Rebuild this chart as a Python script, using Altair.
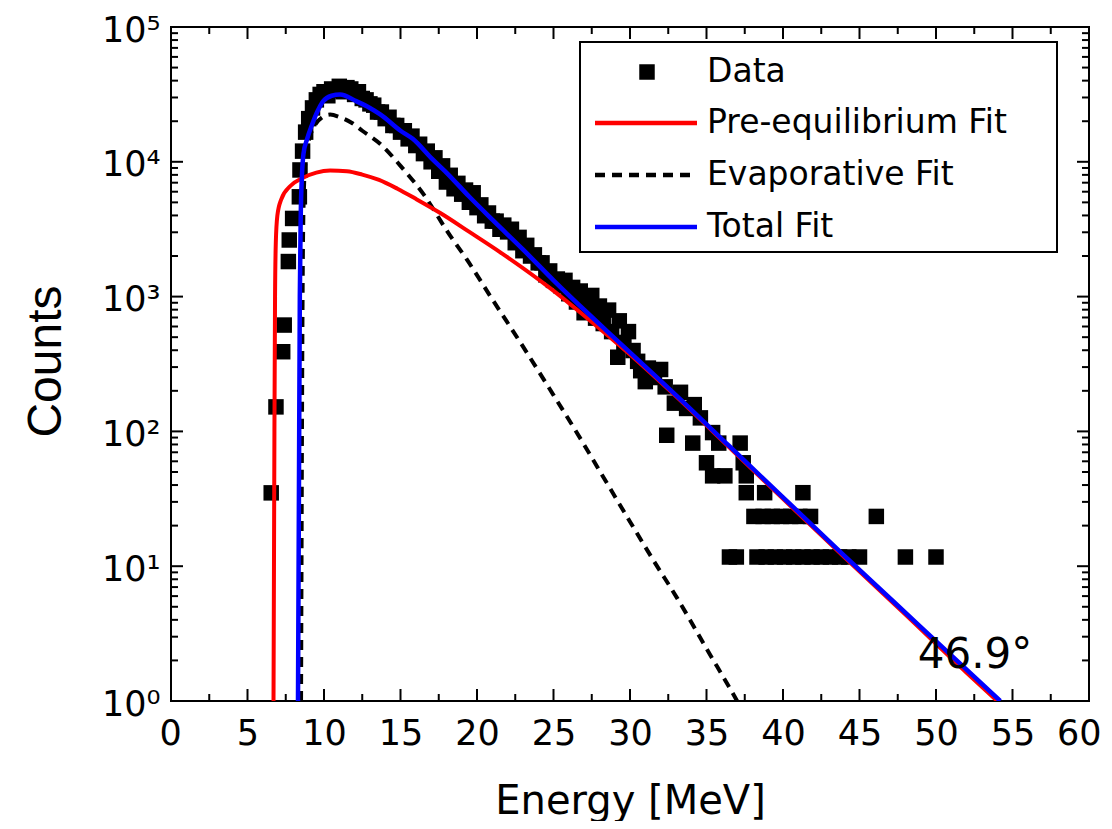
import altair as alt
import pandas as pd

# ---------------- data ----------------
data_E = [6.55, 6.86, 7.30, 7.40, 7.67, 7.73, 7.95, 8.39, 8.43,
          8.6, 8.8, 9.0, 9.25, 9.5, 9.75, 10.0, 10.25, 10.5, 10.75, 11.0, 11.25, 11.5, 11.75,
          12.0, 12.25, 12.5, 12.75, 13.0, 13.25, 13.5, 13.75, 14.0, 14.25, 14.5, 14.75,
          15.0, 15.25, 15.5, 15.75, 16.0, 16.25, 16.5, 16.75, 17.0, 17.25, 17.5, 17.75,
          18.0, 18.25, 18.5, 18.75, 19.0, 19.25, 19.5, 19.75, 20.0, 20.25, 20.5, 20.75,
          21.0, 21.25, 21.5, 21.75, 22.0, 22.25, 22.5, 22.75, 23.0, 23.25, 23.5, 23.75,
          24.0, 24.25, 24.5, 24.75, 25.0, 25.25, 25.5, 25.75, 26.0, 26.25, 26.5, 26.75,
          27.0, 27.25, 27.5, 27.75, 28.0, 28.25, 28.6, 28.8, 29.2, 29.3, 29.6, 29.9,
          30.2, 30.5, 30.7, 31.0, 31.2, 31.6, 32.0, 32.3, 32.4, 32.9, 33.3, 33.7,
          34.1, 34.2, 34.6, 35.0, 35.4, 35.4, 35.8, 36.2, 36.5, 36.95, 37.2, 37.4,
          37.6, 37.6, 38.1, 38.3, 38.7, 38.8, 38.9, 39.3, 39.5, 39.9, 40.1, 40.5,
          40.7, 41.1, 41.3, 41.3, 41.8, 41.9, 42.5, 43.1, 43.7, 44.3, 45.0, 46.1,
          48.0, 50.0]
data_C = [35, 152, 390, 615, 1820, 2630, 3800, 5500, 8700,
          12000, 16600, 20900, 25100, 28800, 31600, 33100, 30900, 34700, 33900, 36300, 33100, 35500, 34700,
          31600, 33100, 29500, 28800, 26900, 26300, 23400, 23400, 20900, 21400, 18600, 18600,
          16600, 17000, 14800, 15500, 13200, 13500, 11500, 12000, 10000, 10700, 8510, 9330,
          7080, 7940, 6310, 6920, 5750, 6170, 5010, 5890, 4570, 4790, 3980, 4170,
          3630, 3630, 3160, 3390, 3020, 3160, 2510, 2750, 2190, 2400, 2000, 2040,
          1780, 1780, 1450, 1550, 1320, 1350, 1200, 1320, 1050, 1170, 912, 1100,
          759, 891, 1020, 692, 851, 631, 794, 550, 355, 661, 457, 550,
          398, 331, 282, 234, 295, 251, 288, 214, 93.6, 162, 195, 148,
          81.9, 158, 126, 58.5, 98, 46.8, 81.9, 46.8, 11.7, 11.7, 81.9, 58.5,
          46.8, 35.1, 23.4, 11.7, 23.4, 35.1, 11.7, 23.4, 11.7, 23.4, 11.7, 23.4,
          11.7, 23.4, 35.1, 11.7, 23.4, 11.7, 11.7, 11.7, 11.7, 11.7, 11.7, 23.4,
          11.7, 11.7]

pre_E = [6.70, 6.73, 6.76, 6.80, 6.85, 6.95, 7.2, 7.8, 8.6, 9.5, 10.4, 11.5, 12.5, 13.6,
         14.8, 16.0, 17.6, 19.5, 21.5, 24.8, 27.2, 30.0, 33.0, 36.5, 40.0, 44.0, 48.0, 52.0, 54.0]
pre_C = [1.0, 10, 100, 1000, 2510, 3980, 5250, 6610, 7590, 8320, 8610, 8510, 8040, 7330,
         6310, 5310, 4170, 3020, 2140, 1150, 692, 372, 182, 75.9, 31.6, 11.7, 4.37, 1.62, 1.0]

evap_E = [8.50, 8.53, 8.56, 8.60, 8.65, 8.75, 9.0, 9.4, 9.9, 10.4, 11.05, 11.8, 12.5, 13.7,
          15.0, 16.5, 18.2, 19.3, 21.0, 23.0, 25.0, 26.9, 28.0, 30.0, 31.5, 33.1, 35.0, 37.0, 37.5]
evap_C = [1.0, 10, 100, 1000, 3980, 8910, 14100, 18600, 21400, 22400, 21400, 19500, 17000, 13500,
          9330, 5750, 2880, 1910, 955, 427, 186, 83.2, 51.3, 21.4, 11.2, 5.75, 2.45, 1.0, 0.79]

tot_E = [8.30, 8.36, 8.42, 8.48, 8.56, 8.66, 8.9, 9.2, 9.6, 9.95, 10.5, 11.05, 12.1, 13.0,
         13.7, 15.0, 15.8, 17.0, 18.0, 19.5, 21.0, 23.0, 25.0, 27.4, 29.2, 31.0, 33.0, 36.5,
         40.0, 44.0, 48.8, 54.2]
tot_C = [1.0, 31.6, 1000, 3980, 7940, 11500, 14800, 18600, 24000, 28200, 30900, 31600, 28200, 25100,
         22400, 17000, 14800, 10700, 8320, 5500, 3720, 2240, 1320, 724, 468, 302, 186, 77.6,
         32.4, 12.0, 3.72, 1.0]

x_major = [0, 5, 10, 15, 20, 25, 30, 35, 40, 45, 50, 55, 60]
x_minor = [2.5, 7.5, 12.5, 17.5, 22.5, 27.5, 32.5, 37.5, 42.5, 47.5, 52.5, 57.5]
y_major = [1, 10, 100, 1000, 10000, 100000]
y_minor = [k * 10 ** d for d in range(5) for k in range(2, 10)]

legend_labels = ["Data", "Pre-equilibrium Fit", "Evaporative Fit", "Total Fit"]
angle_label = "46.9°"

# ---------------- chart ----------------
W, H = 918, 674
FONT = "DejaVu Sans"
xscale = alt.Scale(domain=[0, 60], nice=False, zero=False)
yscale = alt.Scale(type="log", domain=[1, 100000], nice=False)

x_axis = alt.Axis(values=x_major, title="Energy [MeV]", ticks=False, domain=False, grid=False,
                  labelFontSize=35, labelFont=FONT, labelColor="black", labelPadding=15,
                  labelFlush=True, labelFlushOffset=12, labelOverlap=False,
                  titleFontSize=40, titleFont=FONT, titleFontWeight="normal", titleColor="black",
                  titleY=100, titleBaseline="middle")
y_axis = alt.Axis(values=y_major, title="Counts", ticks=False, domain=False, grid=False,
                  labelExpr="['10⁰','10¹','10²','10³','10⁴','10⁵'][round(log(datum.value)/LN10)]",
                  labelFontSize=35, labelFont=FONT, labelColor="black", labelPadding=11,
                  labelOffset=3, labelOverlap=False,
                  titleFontSize=48, titleFont="Liberation Sans", titleFontWeight="normal",
                  titleColor="black", titleX=-125, titleY=H / 2 - 3, titleAngle=-90,
                  titleBaseline="middle")

X = alt.X("E:Q", scale=xscale, axis=x_axis)
Y = alt.Y("C:Q", scale=yscale, axis=y_axis)

df_data = pd.DataFrame({"E": data_E, "C": data_C})
df_pre = pd.DataFrame({"E": pre_E, "C": pre_C})
df_evap = pd.DataFrame({"E": evap_E, "C": evap_C})
df_tot = pd.DataFrame({"E": tot_E, "C": tot_C})

points = alt.Chart(df_data).mark_square(size=240, color="black", opacity=1, filled=True).encode(x=X, y=Y)


def curve(df, color, width, dash=None):
    kw = dict(color=color, strokeWidth=width, interpolate="monotone", clip=True)
    if dash:
        kw["strokeDash"] = dash
    return alt.Chart(df).mark_line(**kw).encode(x=X, y=Y, order="E:Q")


evap = curve(df_evap, "black", 4, [10, 7])
pre = curve(df_pre, "#ff0000", 4)
tot = curve(df_tot, "#0000ff", 4.5)


def yticks(vals, length, right=False):
    x0, x1 = (W - length, W) if right else (0, length)
    return alt.Chart(pd.DataFrame({"C": vals})).mark_rule(color="black", strokeWidth=2).encode(
        y=Y, x=alt.value(x0), x2=alt.value(x1))


def xticks(vals, length, top=False):
    y0, y1 = (0, length) if top else (H - length, H)
    return alt.Chart(pd.DataFrame({"E": vals})).mark_rule(color="black", strokeWidth=2).encode(
        x=X, y=alt.value(y0), y2=alt.value(y1))


ticks = [yticks(y_major, 12), yticks(y_minor, 7), yticks(y_major, 12, True), yticks(y_minor, 7, True),
         xticks(x_major, 12), xticks(x_minor, 7), xticks(x_major, 12, True), xticks(x_minor, 7, True)]

one = pd.DataFrame({"a": [0]})
box = alt.Chart(one).mark_rect(fill="white", stroke="black", strokeWidth=2).encode(
    x=alt.value(409), x2=alt.value(886), y=alt.value(15), y2=alt.value(225))
leg_sq = alt.Chart(one).mark_square(size=240, color="black", opacity=1).encode(
    x=alt.value(476), y=alt.value(45))
leg_red = alt.Chart(one).mark_rule(color="#ff0000", strokeWidth=4.5).encode(
    x=alt.value(424), x2=alt.value(526), y=alt.value(96))
leg_evap = alt.Chart(one).mark_rule(color="black", strokeWidth=4.5, strokeDash=[10, 7]).encode(
    x=alt.value(424), x2=alt.value(526), y=alt.value(148))
leg_blue = alt.Chart(one).mark_rule(color="#0000ff", strokeWidth=4.5).encode(
    x=alt.value(424), x2=alt.value(526), y=alt.value(200))
leg_text = [
    alt.Chart(one).mark_text(align="left", baseline="middle", fontSize=33, font=FONT, color="black").encode(
        x=alt.value(536), y=alt.value(yy), text=alt.value(lab))
    for lab, yy in zip(legend_labels, [45, 96, 148, 200])
]
angle = alt.Chart(one).mark_text(align="center", baseline="middle", fontSize=42, font=FONT,
                                 color="black").encode(
    x=alt.value(804), y=alt.value(628), text=alt.value(angle_label))

chart = alt.layer(points, evap, pre, tot, *ticks, box, leg_sq, leg_red, leg_evap, leg_blue,
                  *leg_text, angle).properties(
    width=W, height=H,
    autosize=alt.AutoSizeParams(type="none"),
    padding={"left": 163, "top": 19, "right": 15, "bottom": 120},
    background="white",
).configure_view(stroke="black", strokeWidth=2)

chart.save("out.html", embed_options={"renderer": "svg", "actions": False})
